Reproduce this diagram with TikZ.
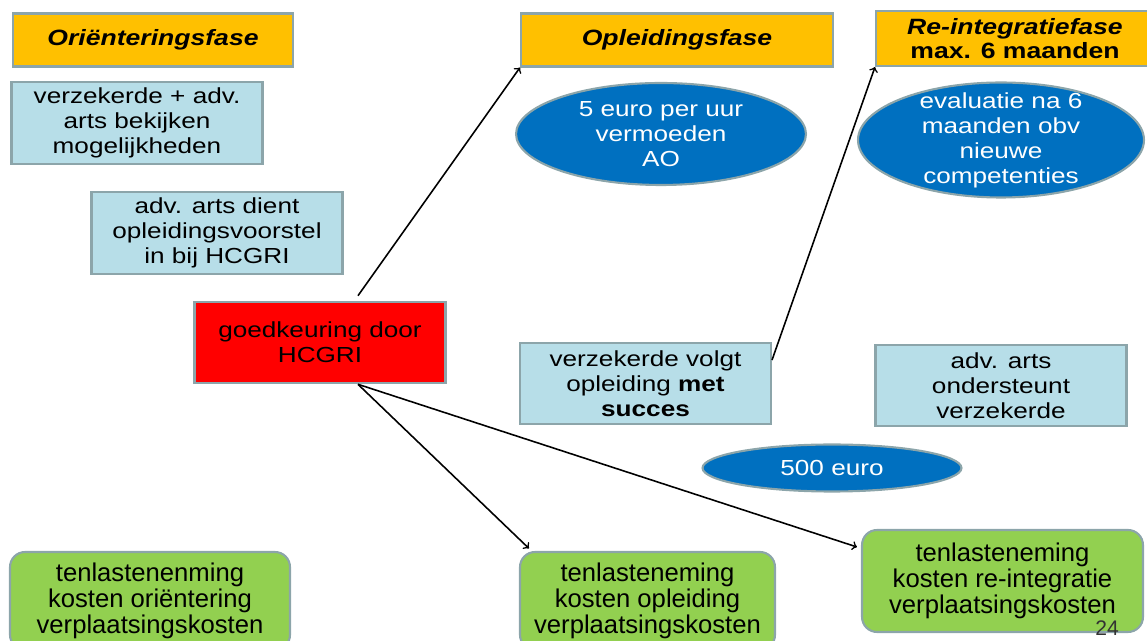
\documentclass[tikz,border=0pt]{standalone}
\usepackage{fontspec}
\setmainfont{Liberation Sans}
\newfontfamily\widefont[FakeStretch=1.2]{Liberation Sans}
\usetikzlibrary{calc}
\usetikzlibrary{shapes.geometric}

\definecolor{fasecol}{RGB}{255,192,0}
\definecolor{infocol}{RGB}{183,222,232}
\definecolor{ellcol}{RGB}{0,112,192}
\definecolor{costcol}{RGB}{146,208,80}
\definecolor{randcol}{RGB}{140,165,170}

\begin{document}
\begin{tikzpicture}[x=0.02cm,y=-0.02cm,
  fase/.style={draw=randcol,line width=1.2pt,fill=fasecol,align=center,inner sep=0pt,
    font=\widefont\fontsize{12.6}{13.2}\selectfont\bfseries},
  info/.style={draw=randcol,line width=1.2pt,fill=infocol,align=center,inner sep=0pt,
    minimum width=5.02cm,minimum height=1.63cm,font=\widefont\fontsize{12.4}{14.2}\selectfont},
  ovaal/.style={ellipse,draw=randcol,line width=1.2pt,fill=ellcol,inner sep=0pt},
  ovaaltekst/.style={white,align=center,inner sep=0pt,font=\widefont\fontsize{12.4}{14.2}\selectfont},
  kost/.style={draw=randcol,line width=1.2pt,fill=costcol,rounded corners=0.3cm,align=center,
    inner sep=0pt,font=\fontsize{14.6}{14.6}\selectfont},
  pijl/.style={->,line width=0.9pt,black,>=to}]
\useasboundingbox (0,0) rectangle (1147,641);

\node[fase,minimum width=5.6cm,minimum height=1.06cm] (ori) at (153,40) {\itshape Oriënteringsfase};
\node[fase,minimum width=6.24cm,minimum height=1.06cm] (opl) at (677,40) {\itshape Opleidingsfase};
\node[fase,minimum width=5.56cm,minimum height=1.1cm] (reint) at (1015,38.5) {\itshape Re-integratiefase\\max. 6 maanden};

\node[info] (bekijken) at (137,123) {verzekerde + adv.\\arts bekijken\\mogelijkheden};
\node[info] (voorstel) at (217,233) {adv. arts dient\\opleidingsvoorstel\\in bij HCGRI};
\node[info,fill=red] (goed) at (320,342.5) {goedkeuring door\\HCGRI};
\node[info] (succes) at (645.5,383.5) {verzekerde volgt\\opleiding \textbf{met}\\\textbf{succes}};
\node[info] (steun) at (1001,385.5) {adv. arts\\ondersteunt\\verzekerde};

\node[ovaal,minimum width=5.8cm,minimum height=2.04cm,
  label={[ovaaltekst]center:5 euro per uur\\vermoeden\\AO}] (uur) at (661,134) {};
\node[ovaal,minimum width=5.72cm,minimum height=2.3cm,
  label={[ovaaltekst]center:evaluatie na 6\\maanden obv\\nieuwe\\competenties}] (eval) at (1001,140) {};
\node[ovaal,minimum width=5.18cm,minimum height=0.94cm,
  label={[ovaaltekst]center:500 euro}] (premie) at (832,468) {};

\node[kost,minimum width=5.6cm,minimum height=1.96cm] (kostori) at (150,601) {tenlastenenming\\kosten oriëntering\\verplaatsingskosten};
\node[kost,minimum width=5.1cm,minimum height=1.96cm] (kostopl) at (647.5,601) {tenlasteneming\\kosten opleiding\\verplaatsingskosten};
\node[kost,minimum width=5.62cm,minimum height=2.04cm] (kostreint) at (1002.5,581) {tenlasteneming\\kosten re-integratie\\verplaatsingskosten};

\node[black!80,font=\fontsize{12}{12}\selectfont] (paginanr) at (1107,628) {24};

\draw[pijl] ([xshift=0.76cm,yshift=0.1cm]goed.north) -- (opl.south west);
\draw[pijl] ([yshift=0.47cm]succes.east) -- (reint.south west);
\draw[pijl] ([xshift=0.76cm]goed.south) -- ([xshift=0.2cm,yshift=0.05cm]kostopl.north west);
\draw[pijl] ([xshift=0.76cm]goed.south) -- ([xshift=-0.08cm,yshift=0.68cm]kostreint.west);
\end{tikzpicture}
\end{document}
